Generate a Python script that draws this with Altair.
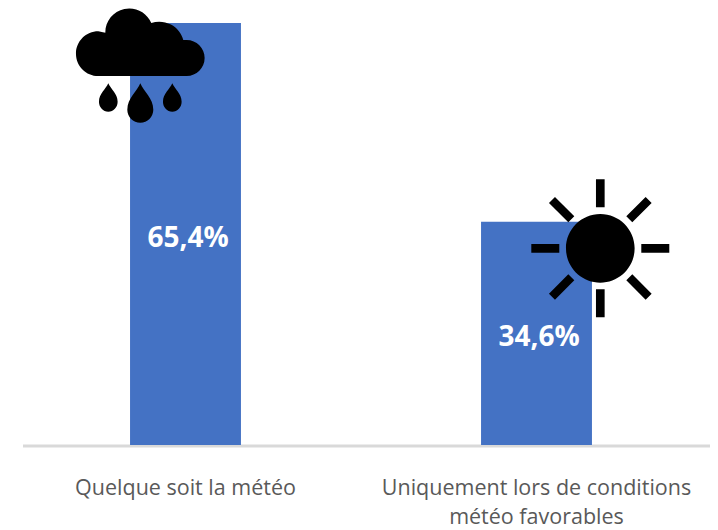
import altair as alt
import pandas as pd

categories = ["Quelque soit la météo", "Uniquement lors de conditions\nmétéo favorables"]
values = [65.4, 34.6]
value_labels = ["65,4%", "34,6%"]

CLOUD = (
    "M-126,38 A67,67 0 0 1 -126,-96 L-105,-92 A72,72 0 0 1 33,-121 A75,75 0 0 1 129,-70 "
    "L139,-70 A54,54 0 0 1 139,38 Z "
    "M-96,60 C-104,78 -124,92 -124,115 A28,30 0 1 0 -68,115 C-68,92 -88,78 -96,60 Z "
    "M0,60 C-10,85 -39,105 -39,139 A39,39 0 1 0 39,139 C39,105 10,85 0,60 Z "
    "M96,60 C88,78 68,92 68,115 A28,30 0 1 0 124,115 C124,92 104,78 96,60 Z"
)
SUN = (
    "M-103,0 A103,103 0 1 1 103,0 A103,103 0 1 1 -103,0 Z "
    "M-13,-207 L13,-207 L13,-123 L-13,-123 Z M-13,123 L13,123 L13,207 L-13,207 Z "
    "M-207,-13 L-123,-13 L-123,13 L-207,13 Z M123,-13 L207,-13 L207,13 L123,13 Z "
    "M96,78 L154,136 L136,154 L78,96 Z M-96,78 L-154,136 L-136,154 L-78,96 Z "
    "M96,-78 L154,-136 L136,-154 L78,-96 Z M-96,-78 L-154,-136 L-136,-154 L-78,-96 Z"
)

df = pd.DataFrame({"cat": categories, "val": values, "lab": value_labels,
                   "mid": [v / 2 for v in values]})
x = alt.X("cat:N", sort=categories, title=None,
          scale=alt.Scale(range=[2, 704], paddingInner=0.684, paddingOuter=0.342),
          axis=alt.Axis(domain=False, ticks=False, grid=False, labelAngle=0,
                        labelExpr='split(datum.label, "\\n")', labelFont="Open Sans",
                        labelFontSize=21.5, labelColor="#595959", labelPadding=32,
                        labelLimit=0, labelLineHeight=29, labelAlign="center"))
yscale = alt.Scale(domain=[0, 65.4], range=[437, 15])

bars = alt.Chart(df).mark_bar(color="#4472C4").encode(
    x=x, y=alt.Y("val:Q", scale=yscale, axis=None))
text = alt.Chart(df).mark_text(color="white", font="Open Sans", fontWeight="bold",
                               fontSize=28, baseline="middle", dy=5, dx=2.5).encode(
    x=alt.X("cat:N", sort=categories), y=alt.Y("mid:Q", scale=yscale, axis=None), text="lab:N")
base = alt.Chart(df.head(1)).mark_rule(color="#D9D9D9", strokeWidth=3).encode(
    x=alt.value(15), x2=alt.value(702), y=alt.value(438))
cloud = alt.Chart(df.head(1)).mark_point(shape=CLOUD, size=0.4444, filled=True, color="black",
                                         opacity=1, strokeWidth=0).encode(
    x=alt.value(132.3), y=alt.value(55.3))
sun = alt.Chart(df.head(1)).mark_point(shape=SUN, size=0.4444, filled=True, color="black",
                                       opacity=1, strokeWidth=0).encode(
    x=alt.value(592.3), y=alt.value(240.3))

chart = alt.layer(base, bars, text, cloud, sun).properties(
    width=702, height=437, background="white",
    padding={"left": 0, "top": 0, "right": 0, "bottom": 85},
    autosize=alt.AutoSizeParams(type="none")
).configure_view(stroke=None)
chart.save("out.html", embed_options={"renderer": "svg", "actions": False})
